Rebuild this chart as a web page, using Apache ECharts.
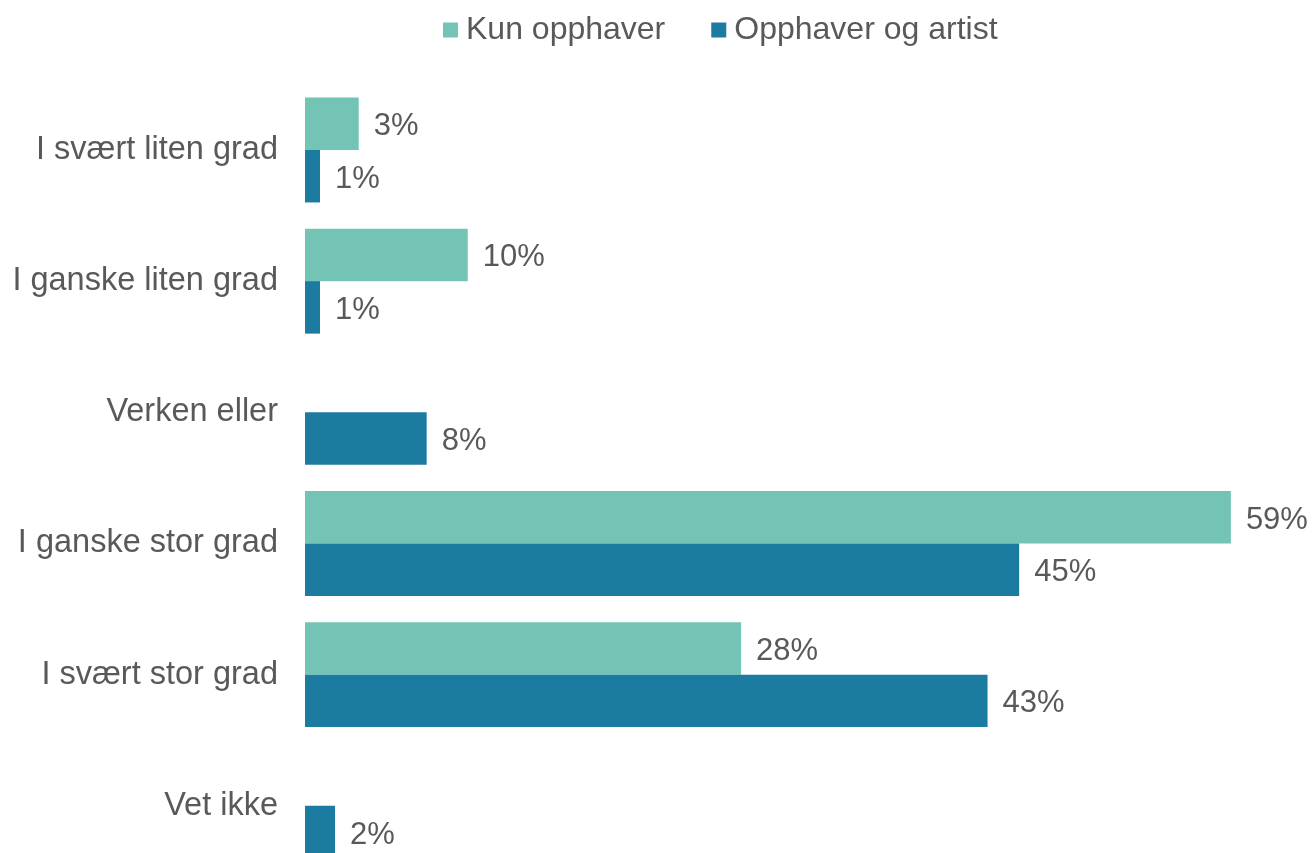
<!DOCTYPE html>
<html>
<head>
<meta charset="utf-8">
<script src="https://cdn.jsdelivr.net/npm/echarts@6/dist/echarts.min.js"></script>
<style>html,body{margin:0;padding:0;background:#fff}#c{width:1316px;height:853px}</style>
</head>
<body>
<div id="c"></div>
<script>
const categories = ["I svært liten grad", "I ganske liten grad", "Verken eller", "I ganske stor grad", "I svært stor grad", "Vet ikke"];
const seriesNames = ["Kun opphaver", "Opphaver og artist"];
const kunOpphaver = [3.4, 10.3, null, 58.6, 27.6, null];
const opphaverOgArtist = [0.95, 0.95, 7.7, 45.2, 43.2, 1.9];

const textColor = '#595959';
const font = 'Liberation Sans, Arial, sans-serif';
const chart = echarts.init(document.getElementById('c'));
const labelCfg = {
  show: true, position: 'right', distance: 15, offset: [0, 3],
  color: textColor, fontSize: 31, fontFamily: font,
  formatter: p => (p.value == null ? '' : Math.round(p.value) + '%')
};
chart.setOption({
  animation: false,
  color: ['#73C4B4', '#1C7BA1'],
  legend: {
    data: seriesNames, left: 438, top: 9,
    icon: 'rect', itemWidth: 15, itemHeight: 15, itemGap: 46,
    textStyle: { color: textColor, fontSize: 32, fontFamily: font, padding: [0, 0, 0, 3] }
  },
  grid: { left: 305, right: 63, top: 84.4, height: 787, containLabel: false, outerBoundsMode: 'none' },
  xAxis: { type: 'value', min: 0, max: 60, show: false },
  yAxis: {
    type: 'category', data: categories, inverse: true,
    axisLine: { show: false }, axisTick: { show: false },
    axisLabel: { color: textColor, fontSize: 32.5, fontFamily: font, margin: 27, padding: [9, 0, 0, 0] }
  },
  series: [
    { name: seriesNames[0], type: 'bar', data: kunOpphaver, barGap: '0%', barCategoryGap: '20%', label: labelCfg },
    { name: seriesNames[1], type: 'bar', data: opphaverOgArtist, barGap: '0%', barCategoryGap: '20%', label: labelCfg }
  ]
});
</script>
</body>
</html>
